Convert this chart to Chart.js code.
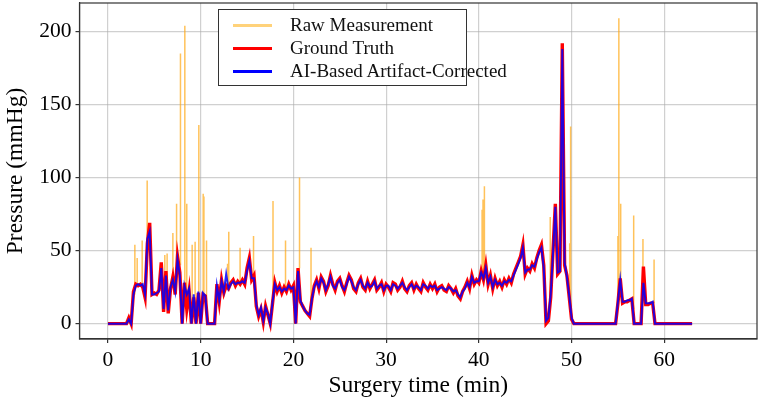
<!DOCTYPE html>
<html>
<head>
<meta charset="utf-8">
<script src="https://cdn.jsdelivr.net/npm/chart.js@4.4.1/dist/chart.umd.min.js"></script>
<style>
  html, body { margin: 0; padding: 0; background: #fff; }
  #wrap { position: relative; width: 762px; height: 408px; }
  #legend {
    position: absolute; left: 218px; top: 9px; width: 247px; height: 75px;
    border: 1px solid #333; background: #fff;
    font-family: 'Liberation Serif', serif; font-size: 19px; color: #111;
  }
  .legend-row { position: absolute; left: 14px; height: 23px; display: flex; align-items: center; white-space: nowrap; }
  .legend-swatch { width: 39px; height: 3px; margin-right: 18px; }
</style>
</head>
<body>
<div id="wrap">
  <canvas id="chart" width="762" height="408"></canvas>
  <div id="legend"></div>
</div>
<script>
// samples every 0.25 min, starting at 0
const sampleStep = 0.25

const groundTruth = [
    0, 0, 0, 0, 0, 0, 0, 0, 0, 4, 0, 22, 27, 26, 27, 25, 18, 55, 69, 20,
    21, 20, 23, 42, 8, 36, 7, 24, 32, 20, 46, 35, 0, 28, 10, 22, 0, 18, 0, 21,
    0, 20, 19, 0, 0, 0, 0, 27, 15, 30, 21, 26, 24, 28, 30, 26, 29, 27, 30, 27,
    38, 45, 30, 33, 12, 5, 10, 1, 12, 6, 0, 14, 28, 22, 26, 21, 25, 22, 27, 23,
    26, 0, 38, 15, 12, 9, 7, 5, 17, 26, 30, 24, 32, 29, 22, 26, 33, 27, 23, 29,
    31, 26, 22, 28, 33, 30, 24, 22, 28, 31, 25, 23, 29, 24, 27, 30, 23, 25, 28, 22,
    27, 25, 22, 28, 27, 23, 25, 29, 24, 22, 26, 28, 23, 27, 24, 22, 28, 25, 23, 27,
    24, 27, 22, 25, 26, 23, 22, 26, 24, 21, 24, 19, 17, 22, 25, 29, 24, 33, 27, 30,
    28, 36, 30, 40, 27, 33, 24, 31, 26, 29, 25, 30, 27, 31, 28, 34, 38, 42, 46, 54,
    34, 38, 36, 41, 38, 45, 50, 54, 40, 0, 2, 18, 50, 82, 34, 36, 192, 40, 33, 18,
    3, 0, 0, 0, 0, 0, 0, 0, 0, 0, 0, 0, 0, 0, 0, 0, 0, 0, 0, 0,
    14, 31, 14, 15, 15, 16, 17, 0, 0, 0, 0, 39, 13, 13, 14, 14, 0, 0, 0, 0,
    0, 0, 0, 0, 0, 0, 0, 0, 0, 0, 0, 0, 0
]

const aiCorrected = [
    0, 0, 0, 0, 0, 0, 0, 0, 0, 3, 0, 20, 26, 27, 26, 27, 20, 58, 63, 20,
    20, 21, 22, 38, 10, 33, 9, 25, 30, 22, 44, 33, 0, 26, 20, 24, 0, 20, 0, 22,
    0, 21, 19, 0, 0, 0, 0, 26, 16, 29, 22, 34, 24, 27, 29, 27, 28, 28, 29, 28,
    36, 43, 31, 31, 13, 6, 11, 2, 11, 7, 0, 15, 27, 23, 25, 22, 24, 23, 26, 24,
    25, 0, 36, 16, 12, 9, 7, 6, 17, 25, 29, 25, 31, 28, 23, 27, 32, 26, 24, 28,
    30, 25, 23, 27, 32, 29, 25, 23, 27, 30, 26, 24, 28, 25, 26, 29, 24, 26, 27, 23,
    26, 26, 23, 27, 26, 24, 26, 28, 25, 23, 25, 27, 24, 26, 25, 23, 27, 26, 24, 26,
    25, 26, 23, 24, 25, 24, 23, 25, 24, 22, 23, 20, 18, 22, 24, 28, 25, 32, 28, 29,
    29, 35, 31, 38, 28, 32, 25, 30, 27, 28, 26, 29, 28, 30, 29, 33, 37, 41, 45, 52,
    35, 37, 37, 40, 39, 44, 49, 52, 38, 2, 4, 20, 48, 80, 35, 36, 188, 42, 32, 19,
    4, 0, 0, 0, 0, 0, 0, 0, 0, 0, 0, 0, 0, 0, 0, 0, 0, 0, 0, 0,
    15, 30, 15, 15, 16, 16, 17, 0, 0, 0, 0, 28, 14, 14, 14, 15, 0, 0, 0, 0,
    0, 0, 0, 0, 0, 0, 0, 0, 0, 0, 0, 0, 0
]

// raw measurement artifacts (spikes) : time, peak value, value at foot
const spikeTimes = [2.9, 3.15, 3.69, 4.23, 6.13, 6.38, 7.0, 7.4, 7.82, 8.29, 8.5, 9.08, 9.4, 9.8,
    10.27, 10.35, 10.63, 12.9, 13.03, 14.25, 15.7, 17.8, 19.15, 20.66, 21.9,
    40.35, 40.45, 40.6, 47.7, 49.8, 49.9, 55.0, 55.1, 55.3, 56.7, 57.7, 58.9]
const spikePeaks = [54, 45, 57, 98, 47, 48, 62, 82, 185, 204, 82, 54, 56, 136,
    89, 87, 57, 41, 63, 52, 60, 84, 57, 100, 52,
    78, 85, 94, 73, 55, 135, 60, 209, 82, 74, 58, 44]
const spikeBases = [20, 26, 26, 50, 25, 20, 30, 30, 40, 25, 15, 10, 10, 15,
    20, 20, 15, 25, 24, 27, 33, 14, 24, 38, 8,
    30, 30, 32, 15, 18, 10, 14, 20, 25, 10, 30, 14]

const xTicks = [0, 10, 20, 30, 40, 50, 60]
const yTicks = [0, 50, 100, 150, 200]

const toPoints = values => values.map((v, i) => ({x: i * sampleStep, y: v}))

const rawPoints = []
spikeTimes.forEach((t, i) => {
    rawPoints.push({x: t, y: spikeBases[i]}, {x: t, y: spikePeaks[i]}, {x: t, y: null})
})

const serif = "'Liberation Serif', 'Times New Roman', serif"

const framePlugin = {
    id: 'frame',
    afterDatasetsDraw(chart) {
        const {ctx, chartArea: a} = chart
        ctx.save()
        ctx.strokeStyle = '#333'
        ctx.lineWidth = 1.2
        ctx.strokeRect(a.left, a.top, a.right - a.left, a.bottom - a.top)
        ctx.restore()
    }
}

const gridStyle = {color: 'rgba(170,170,170,0.55)', lineWidth: 1.2, tickColor: '#333', tickLength: 4}

const chart = new Chart(document.getElementById('chart').getContext('2d'), {
    type: 'line',
    data: {
        datasets: [{
            label: 'Raw Measurement',
            data: rawPoints,
            borderColor: 'rgba(255,168,20,0.7)',
            legendColor: '#ffd27a',
            borderWidth: 1.5,
            spanGaps: false,
            order: 3
        }, {
            label: 'Ground Truth',
            data: toPoints(groundTruth),
            borderColor: '#ff0000',
            legendColor: '#ff0000',
            borderWidth: 3.4,
            order: 2
        }, {
            label: 'AI-Based Artifact-Corrected',
            data: toPoints(aiCorrected),
            borderColor: 'rgba(0,0,255,0.85)',
            legendColor: '#0000ff',
            borderWidth: 2,
            order: 1
        }]
    },
    options: {
        responsive: false,
        animation: false,
        layout: {padding: {top: 3, right: 5, left: 0, bottom: 0}},
        elements: {point: {radius: 0}, line: {tension: 0}},
        plugins: {legend: {display: false}, tooltip: {enabled: false}},
        scales: {
            x: {
                type: 'linear',
                min: -3.07,
                max: 70,
                afterBuildTicks: s => { s.ticks = xTicks.map(v => ({value: v})) },
                afterFit: s => { s.height = 69; s.paddingLeft = 0; s.paddingRight = 0 },
                grid: gridStyle,
                border: {color: '#333', width: 1.2},
                ticks: {font: {family: serif, size: 21.5}, color: '#000', padding: 4},
                title: {
                    display: true, text: 'Surgery time (min)', color: '#000',
                    font: {family: serif, size: 23.5}, padding: {top: 0, bottom: 8}
                }
            },
            y: {
                min: -10.5,
                max: 219.5,
                afterBuildTicks: s => { s.ticks = yTicks.map(v => ({value: v})) },
                afterFit: s => { s.width = 79.5; s.paddingTop = 0; s.paddingBottom = 0 },
                grid: gridStyle,
                border: {color: '#333', width: 1.2},
                ticks: {font: {family: serif, size: 21.5}, color: '#000', padding: 4},
                title: {
                    display: true, text: 'Pressure (mmHg)', color: '#000',
                    font: {family: serif, size: 23.5}, padding: {top: 2, bottom: 0}
                }
            }
        }
    },
    plugins: [framePlugin]
})

// legend box inside the plot, like the original figure
const legendDiv = document.getElementById('legend')
chart.data.datasets.forEach((ds, i) => {
    const row = document.createElement('div')
    row.className = 'legend-row'
    row.style.top = (3.5 + i * 23) + 'px'
    const swatch = document.createElement('span')
    swatch.className = 'legend-swatch'
    swatch.style.background = ds.legendColor
    const label = document.createElement('span')
    label.textContent = ds.label
    row.appendChild(swatch)
    row.appendChild(label)
    legendDiv.appendChild(row)
})
</script>
</body>
</html>
